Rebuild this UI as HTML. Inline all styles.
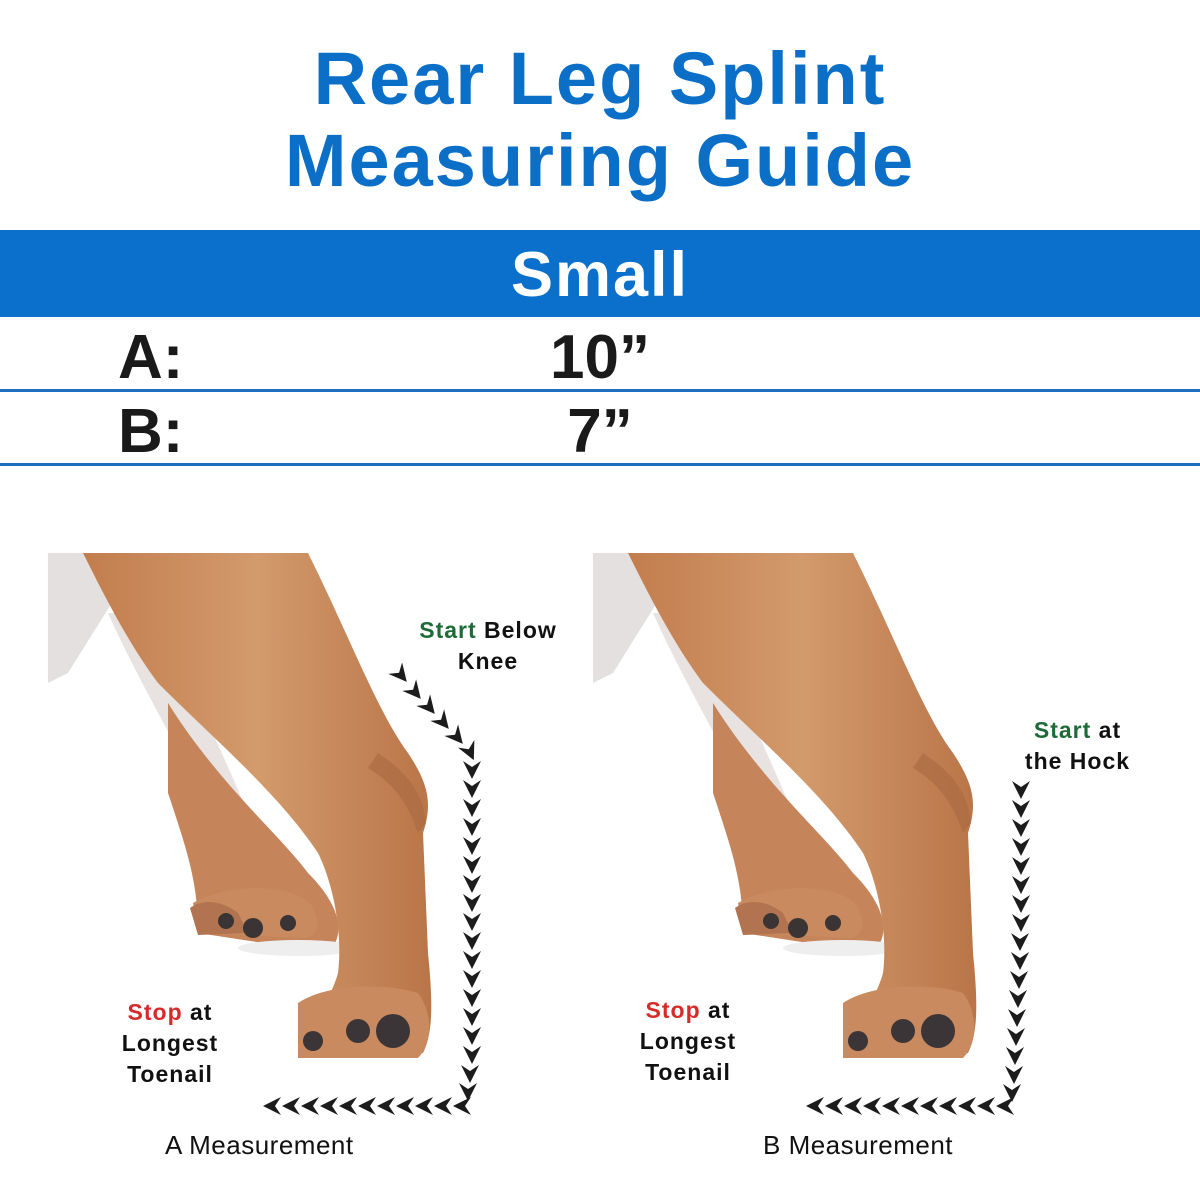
<!DOCTYPE html>
<html><head><meta charset="utf-8"><style>
html,body{margin:0;padding:0;background:#fff}
body{width:1200px;height:1200px;position:relative;overflow:hidden;font-family:"Liberation Sans",Arial,sans-serif}
.t{position:absolute;left:0;width:1200px;text-align:center;color:#0b6fc8;font-weight:bold;font-size:74px;letter-spacing:2px;line-height:1}
.band{position:absolute;left:0;top:230px;width:1200px;height:87px;background:#0a70cc;color:#fff;font-weight:bold;font-size:63px;letter-spacing:2px;text-align:center;line-height:90px}
.row{position:absolute;left:0;width:1200px;font-weight:bold;font-size:62px;color:#1a1a1a;line-height:1}
.line{position:absolute;left:0;width:1200px;height:3px;background:#1f6fc0}
.lbl{position:absolute;font-weight:bold;font-size:23px;letter-spacing:1px;line-height:31px;text-align:center;color:#111}
.cap{position:absolute;font-size:26px;letter-spacing:0.5px;color:#111}
</style></head><body>
<div class="t" style="top:42px">Rear Leg Splint</div>
<div class="t" style="top:124px">Measuring Guide</div>
<div class="band">Small</div>
<div class="row" style="top:327px"><span style="position:absolute;left:118px">A:</span><span style="position:absolute;left:0;width:1200px;text-align:center">10”</span></div>
<div class="line" style="top:389px"></div>
<div class="row" style="top:401px"><span style="position:absolute;left:118px">B:</span><span style="position:absolute;left:0;width:1200px;text-align:center">7”</span></div>
<div class="line" style="top:463px"></div>

<svg width="1200" height="1200" style="position:absolute;left:0;top:0">
<defs>
<linearGradient id="fur" x1="0" y1="0" x2="1" y2="0">
<stop offset="0" stop-color="#c27d4e"/><stop offset="0.5" stop-color="#d39a6c"/><stop offset="1" stop-color="#b97548"/></linearGradient>
<g id="leg">
<path d="M0,0 L95,0 L20,120 L0,130 Z" fill="#e4e0e0"/>
<path d="M60,60 C100,150 160,240 190,330 L230,340 C200,250 150,150 110,60 Z" fill="#d8cfcc" opacity="0.6"/>
<path d="M120,150 C170,230 230,280 260,320 C290,350 300,380 280,400 L150,380 C150,330 140,300 120,240 Z" fill="#c5845a"/>
<path d="M145,350 C180,330 240,330 262,350 C275,370 270,385 255,385 L150,380 Z" fill="#c98a5f"/>
<path d="M142,355 C155,345 175,348 190,360 L200,380 L150,382 Z" fill="#b27450"/>
<circle cx="205" cy="375" r="10" fill="#3a3434"/><circle cx="178" cy="368" r="8" fill="#3a3434"/><circle cx="240" cy="370" r="8" fill="#3a3434"/>
<ellipse cx="250" cy="395" rx="60" ry="8" fill="#eeeeee"/>
<path d="M35,0 L260,0 C300,80 330,160 360,200 C380,230 385,250 375,280 L380,400 C385,450 385,480 375,500 L260,505 C265,470 285,440 290,420 C295,380 285,330 270,300 C230,240 170,190 110,130 C80,90 55,40 35,0 Z" fill="url(#fur)"/>
<path d="M250,450 C280,430 340,430 370,440 C385,460 385,490 370,505 L250,505 Z" fill="#c98a5f"/>
<circle cx="345" cy="478" r="17" fill="#3b3537"/><circle cx="310" cy="478" r="12" fill="#3b3537"/><circle cx="265" cy="488" r="10" fill="#3b3537"/>
<path d="M330,200 C360,220 375,240 378,270 L370,280 C360,250 345,230 320,215 Z" fill="#a9693f" opacity="0.6"/>
</g>
<path id="ar" d="M-9,-9 L0,-3 L9,-9 L0,9 Z" fill="#1c1c1c"/>
</defs>
<use href="#leg" x="48" y="553"/>
<use href="#leg" x="593" y="553"/>
<g>
<use href="#ar" transform="translate(401,675) rotate(-40)"/>
<use href="#ar" transform="translate(415,692) rotate(-40)"/>
<use href="#ar" transform="translate(429,707) rotate(-40)"/>
<use href="#ar" transform="translate(443,722) rotate(-40)"/>
<use href="#ar" transform="translate(457,737) rotate(-40)"/>
<use href="#ar" transform="translate(470,752) rotate(-25)"/>
</g>
<g>
<use href="#ar" x="472" y="770"/><use href="#ar" x="472" y="789"/><use href="#ar" x="472" y="808"/><use href="#ar" x="472" y="827"/><use href="#ar" x="472" y="846"/><use href="#ar" x="472" y="865"/><use href="#ar" x="472" y="884"/><use href="#ar" x="472" y="903"/><use href="#ar" x="472" y="922"/><use href="#ar" x="472" y="941"/><use href="#ar" x="472" y="960"/><use href="#ar" x="472" y="979"/><use href="#ar" x="472" y="998"/><use href="#ar" x="472" y="1017"/><use href="#ar" x="472" y="1036"/><use href="#ar" x="472" y="1055"/><use href="#ar" x="470" y="1074"/><use href="#ar" x="468" y="1092"/>
</g>
<g>
<use href="#ar" transform="translate(462,1106) rotate(90)"/><use href="#ar" transform="translate(443,1106) rotate(90)"/><use href="#ar" transform="translate(424,1106) rotate(90)"/><use href="#ar" transform="translate(405,1106) rotate(90)"/><use href="#ar" transform="translate(386,1106) rotate(90)"/><use href="#ar" transform="translate(367,1106) rotate(90)"/><use href="#ar" transform="translate(348,1106) rotate(90)"/><use href="#ar" transform="translate(329,1106) rotate(90)"/><use href="#ar" transform="translate(310,1106) rotate(90)"/><use href="#ar" transform="translate(291,1106) rotate(90)"/><use href="#ar" transform="translate(272,1106) rotate(90)"/>
</g>
<g>
<use href="#ar" x="1021" y="790"/><use href="#ar" x="1021" y="809"/><use href="#ar" x="1021" y="828"/><use href="#ar" x="1021" y="847"/><use href="#ar" x="1021" y="866"/><use href="#ar" x="1021" y="885"/><use href="#ar" x="1021" y="904"/><use href="#ar" x="1021" y="923"/><use href="#ar" x="1020" y="942"/><use href="#ar" x="1020" y="961"/><use href="#ar" x="1019" y="980"/><use href="#ar" x="1018" y="999"/><use href="#ar" x="1017" y="1018"/><use href="#ar" x="1016" y="1037"/><use href="#ar" x="1015" y="1056"/><use href="#ar" x="1014" y="1075"/><use href="#ar" x="1012" y="1093"/>
</g>
<g>
<use href="#ar" transform="translate(1005,1106) rotate(90)"/><use href="#ar" transform="translate(986,1106) rotate(90)"/><use href="#ar" transform="translate(967,1106) rotate(90)"/><use href="#ar" transform="translate(948,1106) rotate(90)"/><use href="#ar" transform="translate(929,1106) rotate(90)"/><use href="#ar" transform="translate(910,1106) rotate(90)"/><use href="#ar" transform="translate(891,1106) rotate(90)"/><use href="#ar" transform="translate(872,1106) rotate(90)"/><use href="#ar" transform="translate(853,1106) rotate(90)"/><use href="#ar" transform="translate(834,1106) rotate(90)"/><use href="#ar" transform="translate(815,1106) rotate(90)"/>
</g>
</svg>

<div class="lbl" style="left:398px;top:615px;width:180px"><span style="color:#1d6b37">Start</span> Below<br>Knee</div>
<div class="lbl" style="left:995px;top:715px;width:165px"><span style="color:#1d6b37">Start</span> at<br>the Hock</div>
<div class="lbl" style="left:95px;top:997px;width:150px"><span style="color:#d62b2b">Stop</span> at<br>Longest<br>Toenail</div>
<div class="lbl" style="left:613px;top:995px;width:150px"><span style="color:#d62b2b">Stop</span> at<br>Longest<br>Toenail</div>
<div class="cap" style="left:165px;top:1130px">A Measurement</div>
<div class="cap" style="left:763px;top:1130px">B Measurement</div>
</body></html>
